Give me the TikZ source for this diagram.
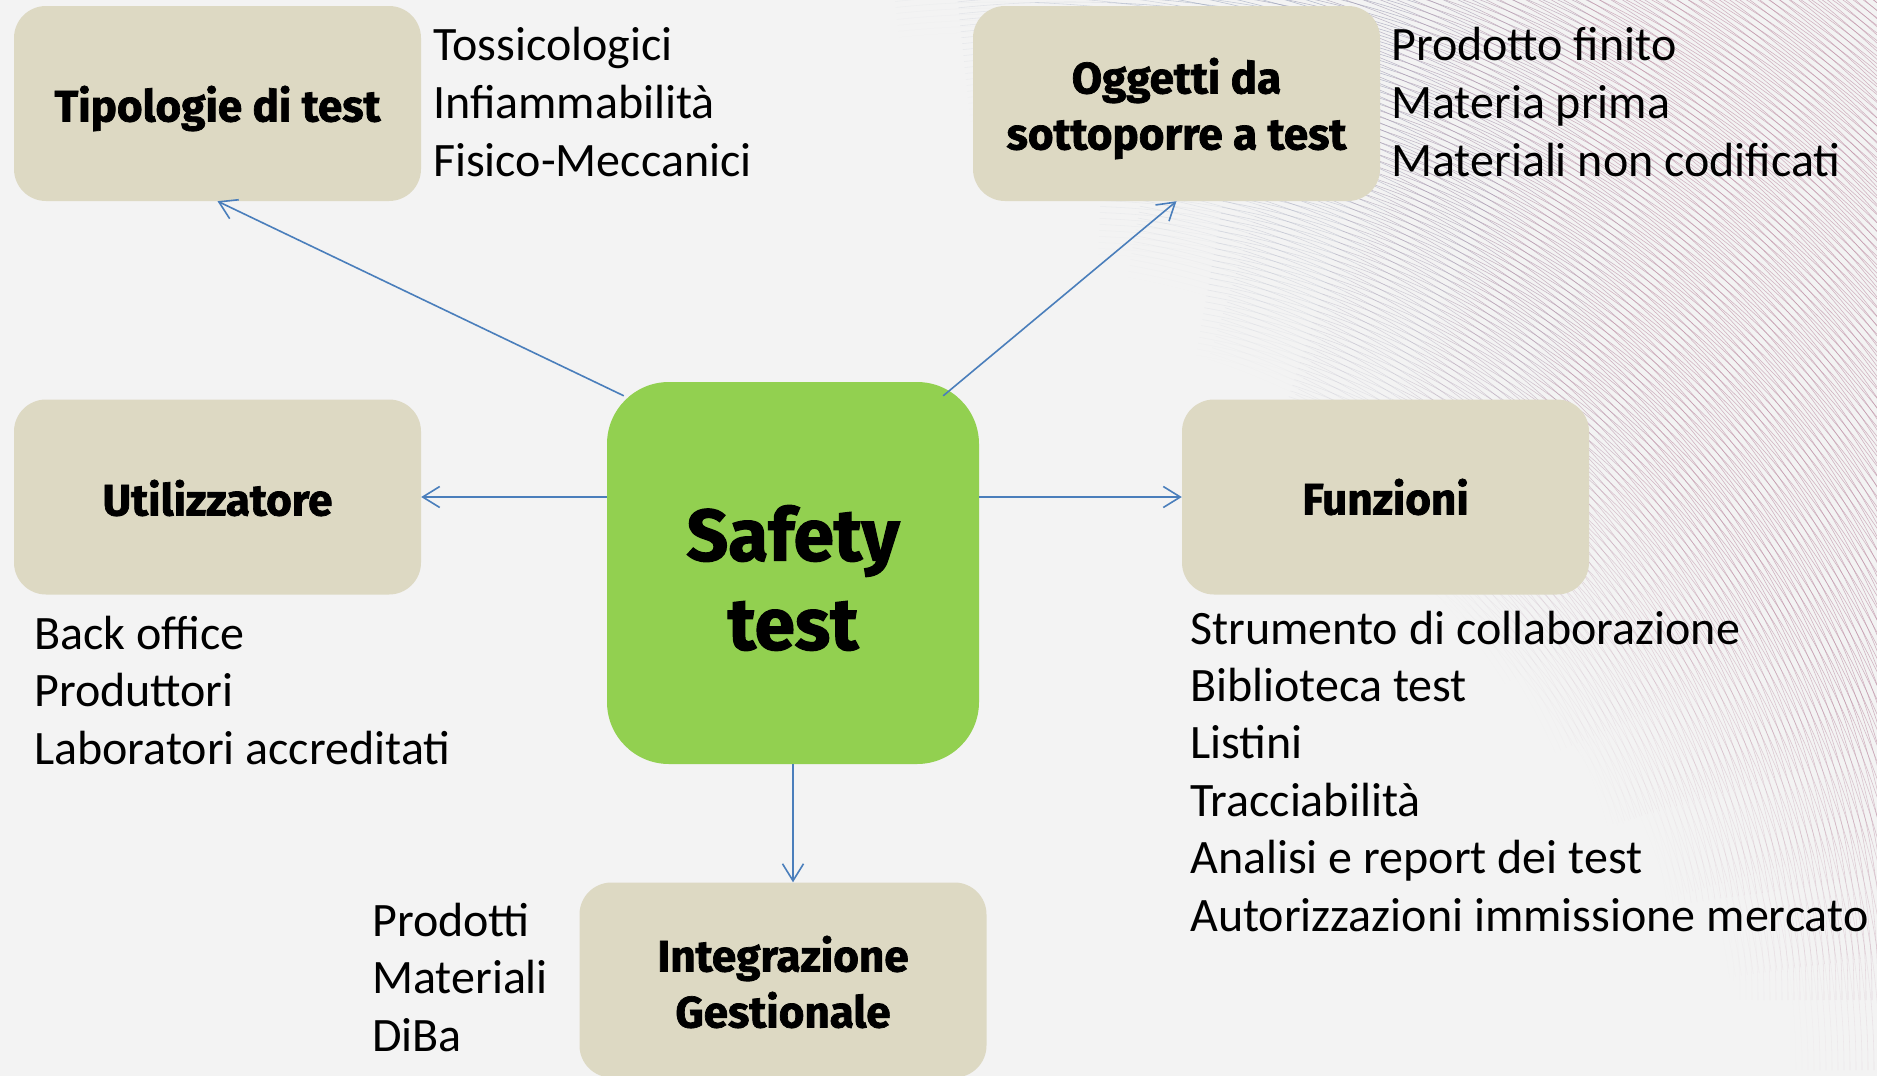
\documentclass[tikz,border=0pt]{standalone}
\usepackage{fontspec}
\setmainfont{Carlito}
\newfontfamily\titlefont{Fira Sans}[BoldFeatures={FakeBold=1.6}]
\usetikzlibrary{arrows.meta}
\definecolor{bgc}{HTML}{F3F3F3}
\definecolor{tan}{HTML}{DDD9C3}
\definecolor{lgreen}{HTML}{92D050}
\definecolor{arrblue}{HTML}{4A7EBB}
\definecolor{arcA}{HTML}{8A97B2}
\definecolor{arcB}{HTML}{BA889F}
\newcommand\lowr[2]{\raisebox{-#1}[\height][\depth]{#2}}
\newcommand\arcfamily[4]{% cx, cy, rmin, rmax
  \foreach \r in {#3,\the\numexpr#3+6\relax,...,#4} {
    \foreach \a in {-112,-104,...,-8} {
      \pgfmathsetmacro\xm{#1+\r*cos(\a+4)}
      \pgfmathsetmacro\ym{#2+\r*sin(\a+4)}
      \pgfmathsetmacro\op{0.62*min(1,max(0,((\xm-935)*0.767-\ym*0.642)/260))}
      \pgfmathsetmacro\mix{min(100,max(0,(\xm-1250)/4))}
      \draw[arcB!\mix!arcA, line width=0.55pt, opacity=\op] (#1,#2) ++(\a:\r) arc[start angle=\a, end angle=\a+8, radius=\r];
    }
  }}
\begin{document}
\begin{tikzpicture}[x=1pt,y=-1pt,
  tanbox/.style={fill=tan, draw=none, rounded corners=32pt, minimum width=407pt, minimum height=195pt, inner sep=0pt, align=center, font=\titlefont\bfseries\fontsize{44}{56}\selectfont},
  greenbox/.style={fill=lgreen, draw=none, rounded corners=62pt, minimum width=372pt, minimum height=382pt, inner sep=0pt, align=center, font=\titlefont\bfseries\fontsize{73}{89}\selectfont},
  item/.style={anchor=base west, inner sep=0pt, font=\fontsize{48}{56}\selectfont},
  arr/.style={draw=arrblue, line width=1.6pt, -{Straight Barb[length=17pt,width=21pt,line width=1.6pt]}}
]
\fill[bgc] (0,0) rectangle (1877,1076);
\useasboundingbox (0,0) rectangle (1877,1076);
% background line pattern
\begin{scope}
\clip (0,0) rectangle (1877,1076);
\arcfamily{1000}{1000}{560}{1330}
\arcfamily{1070}{1070}{600}{1370}
\end{scope}
% boxes
\node[tanbox] (tipo) at (217.5,103.5) {\lowr{5pt}{Tipologie di test}};
\node[tanbox] (ogg) at (1176.5,103.5) {\lowr{5pt}{Oggetti da}\\\lowr{5pt}{sottoporre a test}};
\node[tanbox] (util) at (217.5,497) {\lowr{1pt}{Utilizzatore}};
\node[tanbox] (funz) at (1385.5,497) {Funzioni};
\node[tanbox] (integ) at (783,980) {\lowr{2pt}{Integrazione}\\\lowr{2pt}{Gestionale}};
\node[greenbox] (safety) at (793,573) {\lowr{5pt}{Safety}\\\lowr{5pt}{test}};
% connectors
\draw[arr] ([shift={(17,14)}]safety.north west) -- (tipo.south);
\draw[arr] ([shift={(-36,14)}]safety.north east) -- (ogg.south);
\draw[arr] (safety.west |- util.east) -- (util.east);
\draw[arr] (safety.east |- funz.west) -- (funz.west);
\draw[arr] (safety.south) -- (safety.south |- integ.north);
% lists
\foreach \t [count=\i] in {Tossicologici,Infiammabilità,Fisico-Meccanici}
  \node[item] (tl\i) at (433,{60+58*(\i-1)}) {\t};
\foreach \t [count=\i] in {Prodotto finito,Materia prima,Materiali non codificati}
  \node[item] (ol\i) at (1391,{60+58*(\i-1)}) {\t};
\foreach \t [count=\i] in {Back office,Produttori,Laboratori accreditati}
  \node[item] (ul\i) at (34,{649+57.5*(\i-1)}) {\t};
\foreach \t [count=\i] in {Strumento di collaborazione,Biblioteca test,Listini,Tracciabilità,Analisi e report dei test,Autorizzazioni immissione mercato}
  \node[item] (fl\i) at (1190,{644+57.4*(\i-1)}) {\t};
\foreach \t [count=\i] in {Prodotti,Materiali,DiBa}
  \node[item] (il\i) at (372,{936+57.5*(\i-1)}) {\t};
\end{tikzpicture}
\end{document}
